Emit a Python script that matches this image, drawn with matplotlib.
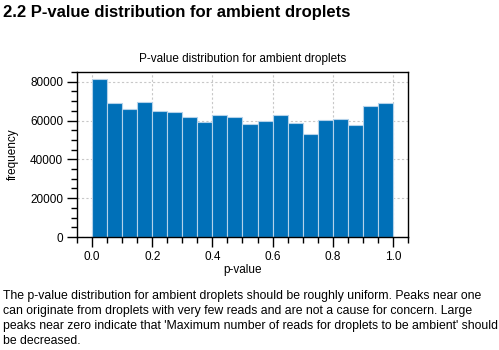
import numpy as np
import matplotlib.pyplot as plt

plt.rcParams["font.family"] = ["Liberation Sans", "DejaVu Sans"]

# histogram of p-values, 20 bins over [0, 1]
bin_edges = np.linspace(0.0, 1.0, 21)
counts = [81400, 69200, 65900, 69500, 64900, 64400, 61600, 59400, 62800, 61800,
          58200, 59700, 62800, 58700, 52900, 60400, 60800, 57500, 67600, 69000]

heading = "2.2 P-value distribution for ambient droplets"
chart_title = "P-value distribution for ambient droplets"
caption = ("The p-value distribution for ambient droplets should be roughly uniform. Peaks near one\n"
           "can originate from droplets with very few reads and are not a cause for concern. Large\n"
           "peaks near zero indicate that 'Maximum number of reads for droplets to be ambient' should\n"
           "be decreased.")

W, H = 499, 350
fig = plt.figure(figsize=(W / 100, H / 100), dpi=100)
ax = fig.add_axes([77 / W, (H - 237) / H, 331 / W, 165 / H])

ax.bar(bin_edges[:-1], counts, width=np.diff(bin_edges), align="edge",
       color="#0070b8", edgecolor="#b4d2ea", linewidth=0.8, zorder=2)

ax.set_xlim(-0.05, 1.05)
ax.set_ylim(0, 85000)
ax.set_xticks(np.arange(0, 1.01, 0.2))
ax.set_xticks(np.arange(-0.05, 1.06, 0.05), minor=True)
ax.set_xticklabels(["0.0", "0.2", "0.4", "0.6", "0.8", "1.0"])
ax.set_yticks(np.arange(0, 80001, 20000))
ax.set_yticks(np.arange(0, 85001, 5000), minor=True)
ax.tick_params(which="major", length=7, width=1, labelsize=8.5, pad=3, direction="out")
ax.tick_params(which="minor", length=4, width=1, direction="out")
ax.grid(True, which="major", linestyle=(0, (2, 2)), color="#c8c8c8", linewidth=0.8, zorder=0)
for s in ax.spines.values():
    s.set_linewidth(1.0)

ax.set_title(chart_title, fontsize=8.5, pad=7)
ax.set_xlabel("p-value", fontsize=8.5, labelpad=1)
ax.set_ylabel("frequency", fontsize=8.5, labelpad=8)

fig.text(3 / W, 1 - 12.5 / H, heading, fontsize=12, fontweight="bold", va="center", ha="left")
fig.text(3 / W, 1 - 290 / H, caption, fontsize=8.8, va="top", ha="left", linespacing=1.32)

fig.savefig("out.png", dpi=100)
